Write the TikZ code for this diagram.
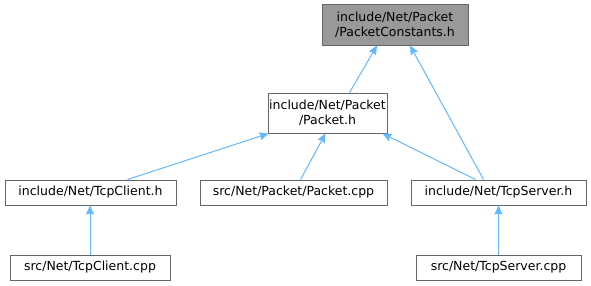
\documentclass[tikz,border=0pt]{standalone}
\usepackage{fontspec}
\setmainfont{DejaVu Sans}
\usetikzlibrary{arrows.meta}

\definecolor{edgeblue}{HTML}{63B8FF}
\definecolor{boxgray}{HTML}{666666}
\definecolor{topfill}{HTML}{999999}

\begin{document}
\begin{tikzpicture}[x=1pt, y=-1pt, line width=1pt,
	    >={Stealth[length=9pt,width=8pt,inset=1pt]},
	    every node/.style={inner sep=0pt, align=center,
	      font=\fontsize{12.5}{15}\selectfont},
	    file/.style={draw=boxgray, fill=white},
	    dep/.style={draw=edgeblue, ->}]
	    \useasboundingbox (0,0) rectangle (591,285);
	    \node[file, fill=topfill, minimum width=146pt, minimum height=41pt] (constants) at (395,24.5)
	      {include/Net/Packet\\/PacketConstants.h};
	    \node[file, minimum width=119pt, minimum height=40pt] (packeth) at (327.5,113)
	      {include/Net/Packet\\/Packet.h};
	    \node[file, minimum width=171pt, minimum height=25pt] (clienth) at (90.5,192.5) {include/Net/TcpClient.h};
	    \node[file, minimum width=187pt, minimum height=25pt] (packetcpp) at (293.5,192.5) {src/Net/Packet/Packet.cpp};
	    \node[file, minimum width=175pt, minimum height=25pt] (serverh) at (498.5,192.5) {include/Net/TcpServer.h};
	    \node[file, minimum width=160pt, minimum height=25pt] (clientcpp) at (90,267.5) {src/Net/TcpClient.cpp};
	    \node[file, minimum width=165pt, minimum height=25pt] (servercpp) at (498.5,267.5) {src/Net/TcpServer.cpp};
	    \draw[dep] ([xshift=22pt]packeth.north) -- ([xshift=-18pt]constants.south);
	    \draw[dep] ([xshift=-15pt]serverh.north) -- ([xshift=15pt]constants.south);
	    \draw[dep] ([xshift=37pt]clienth.north) -- ([xshift=1pt]packeth.south west);
	    \draw[dep] ([xshift=7pt]packetcpp.north) -- ([xshift=-2pt]packeth.south);
	    \draw[dep] ([xshift=-23pt]serverh.north) -- ([xshift=-5pt]packeth.south east);
	    \draw[dep] (clientcpp.north) -- (clientcpp.north |- clienth.south);
	    \draw[dep] (servercpp) -- (serverh);
	  \end{tikzpicture}
\end{document}
